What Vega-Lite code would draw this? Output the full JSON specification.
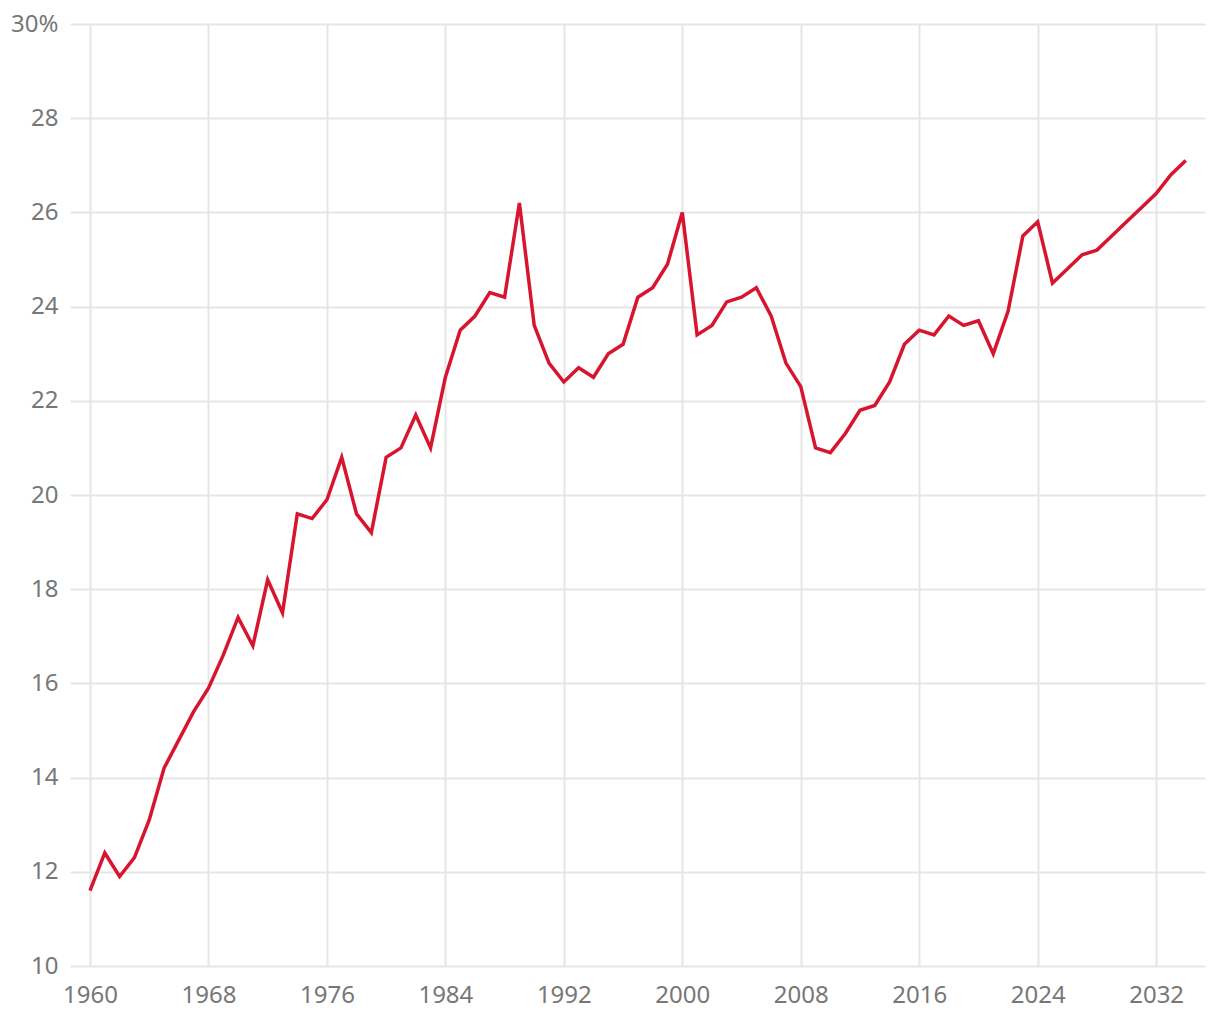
{
  "$schema": "https://vega.github.io/schema/vega-lite/v6.json",
  "autosize": {"type": "none"},
  "width": 1135,
  "height": 942,
  "padding": {"left": 70, "top": 24, "right": 15, "bottom": 54},
  "background": "white",
  "config": {"view": {"stroke": null}},
  "data": {"values": [
    {"year": 1960, "value": 11.6}, {"year": 1961, "value": 12.4}, {"year": 1962, "value": 11.9},
    {"year": 1963, "value": 12.3}, {"year": 1964, "value": 13.1}, {"year": 1965, "value": 14.2},
    {"year": 1966, "value": 14.8}, {"year": 1967, "value": 15.4}, {"year": 1968, "value": 15.9},
    {"year": 1969, "value": 16.6}, {"year": 1970, "value": 17.4}, {"year": 1971, "value": 16.8},
    {"year": 1972, "value": 18.2}, {"year": 1973, "value": 17.5}, {"year": 1974, "value": 19.6},
    {"year": 1975, "value": 19.5}, {"year": 1976, "value": 19.9}, {"year": 1977, "value": 20.8},
    {"year": 1978, "value": 19.6}, {"year": 1979, "value": 19.2}, {"year": 1980, "value": 20.8},
    {"year": 1981, "value": 21.0}, {"year": 1982, "value": 21.7}, {"year": 1983, "value": 21.0},
    {"year": 1984, "value": 22.5}, {"year": 1985, "value": 23.5}, {"year": 1986, "value": 23.8},
    {"year": 1987, "value": 24.3}, {"year": 1988, "value": 24.2}, {"year": 1989, "value": 26.2},
    {"year": 1990, "value": 23.6}, {"year": 1991, "value": 22.8}, {"year": 1992, "value": 22.4},
    {"year": 1993, "value": 22.7}, {"year": 1994, "value": 22.5}, {"year": 1995, "value": 23.0},
    {"year": 1996, "value": 23.2}, {"year": 1997, "value": 24.2}, {"year": 1998, "value": 24.4},
    {"year": 1999, "value": 24.9}, {"year": 2000, "value": 26.0}, {"year": 2001, "value": 23.4},
    {"year": 2002, "value": 23.6}, {"year": 2003, "value": 24.1}, {"year": 2004, "value": 24.2},
    {"year": 2005, "value": 24.4}, {"year": 2006, "value": 23.8}, {"year": 2007, "value": 22.8},
    {"year": 2008, "value": 22.3}, {"year": 2009, "value": 21.0}, {"year": 2010, "value": 20.9},
    {"year": 2011, "value": 21.3}, {"year": 2012, "value": 21.8}, {"year": 2013, "value": 21.9},
    {"year": 2014, "value": 22.4}, {"year": 2015, "value": 23.2}, {"year": 2016, "value": 23.5},
    {"year": 2017, "value": 23.4}, {"year": 2018, "value": 23.8}, {"year": 2019, "value": 23.6},
    {"year": 2020, "value": 23.7}, {"year": 2021, "value": 23.0}, {"year": 2022, "value": 23.9},
    {"year": 2023, "value": 25.5}, {"year": 2024, "value": 25.8}, {"year": 2025, "value": 24.5},
    {"year": 2026, "value": 24.8}, {"year": 2027, "value": 25.1}, {"year": 2028, "value": 25.2},
    {"year": 2029, "value": 25.5}, {"year": 2030, "value": 25.8}, {"year": 2031, "value": 26.1},
    {"year": 2032, "value": 26.4}, {"year": 2033, "value": 26.8}, {"year": 2034, "value": 27.1}
  ]},
  "mark": {"type": "line", "color": "#d7152f", "strokeWidth": 3.5, "strokeJoin": "miter"},
  "encoding": {
    "x": {
      "field": "year", "type": "quantitative",
      "scale": {"domain": [1958.65, 2035.3], "nice": false, "zero": false},
      "axis": {
        "title": null, "values": [1960, 1968, 1976, 1984, 1992, 2000, 2008, 2016, 2024, 2032],
        "format": "d", "domain": false, "ticks": false,
        "grid": true, "gridColor": "#e6e6e6", "gridWidth": 2,
        "labelFont": "Noto Sans", "labelFontSize": 24, "labelColor": "#777777",
        "labelPadding": 17, "labelBaseline": "top"
      }
    },
    "y": {
      "field": "value", "type": "quantitative",
      "scale": {"domain": [10, 30], "nice": false, "zero": false},
      "axis": {
        "title": null, "values": [10, 12, 14, 16, 18, 20, 22, 24, 26, 28, 30],
        "labelExpr": "datum.value == 30 ? '30%' : datum.label",
        "domain": false, "ticks": false,
        "grid": true, "gridColor": "#e6e6e6", "gridWidth": 2,
        "labelFont": "Noto Sans", "labelFontSize": 24, "labelColor": "#777777",
        "labelPadding": 12
      }
    }
  }
}
